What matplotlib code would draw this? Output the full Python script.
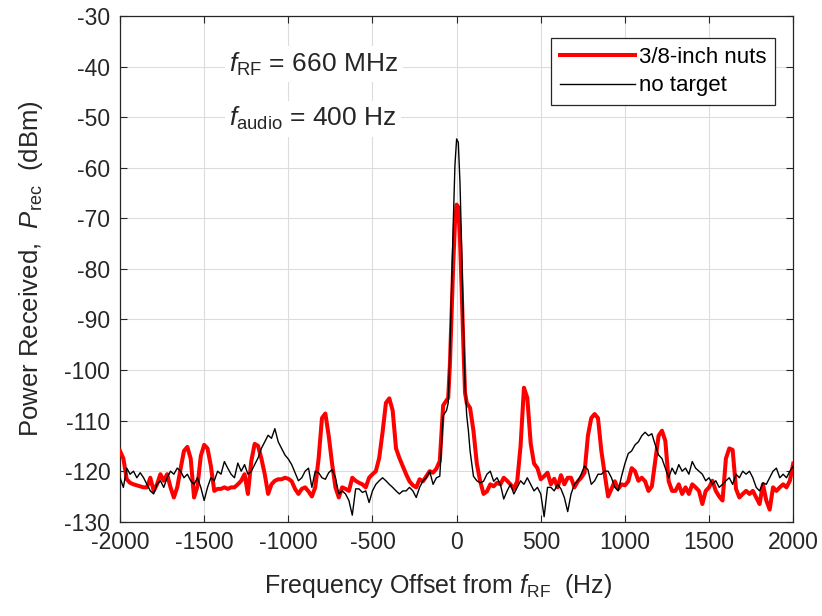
import numpy as np
import matplotlib
matplotlib.use("Agg")
import matplotlib.pyplot as plt

plt.rcParams['font.family'] = ['Liberation Sans', 'DejaVu Sans']
plt.rcParams['mathtext.fontset'] = 'custom'
plt.rcParams['mathtext.rm'] = 'Liberation Sans'
plt.rcParams['mathtext.it'] = 'Liberation Sans:italic'
plt.rcParams['axes.unicode_minus'] = False

# frequency grids (Hz): coarse outside, finer around the carrier
freq_lo = np.arange(-2000, -79, 20)
freq_core = np.arange(-70, 71, 10)
freq_hi = np.arange(80, 2001, 20)

# 3/8-inch nuts (dBm)
red_lo = [-116, -117.5, -121.6, -122.3, -122.6, -122.8, -123, -123.2, -123.2, -121.3,
          -123.9, -122.6, -120.6, -121.9, -120.6, -123.2, -125.2, -123.2, -119.5, -116,
          -115.2, -117.5, -125.2, -123, -117, -114.8, -115.5, -119, -123.9, -123.5,
          -123.5, -123.2, -123.5, -123.2, -123.2, -122.6, -121.9, -120.6, -124.5, -118,
          -114.6, -115, -117.5, -120.6, -124.5, -122.6, -121.9, -121.6, -121.6, -121.3,
          -121.5, -122, -123.5, -124.5, -123.5, -123.2, -124, -125, -123.2, -117.5,
          -109.5, -108.6, -113, -118.5, -123.2, -125.2, -123.2, -123.5, -123.9, -121.3,
          -121.9, -122.3, -122.6, -123.2, -121.3, -120.6, -120, -117.4, -112.3, -106.5,
          -105.6, -108, -115.5, -117.4, -119, -120.6, -122, -122.8, -123.2, -121.6,
          -122, -121, -120, -120.3, -119.5, -118, -107]
red_core = [-106.5, -106, -105.5, -99, -89, -79, -71, -67.3, -67.8, -74, -84, -95, -104.5, -106.5, -107]
red_hi = [-107.5, -112, -118.5, -122, -124.5, -124, -122.6, -123, -122.3, -122.6,
          -121.3, -121.9, -122.6, -123.5, -122, -115, -103.5, -105.5, -114.5, -118.5,
          -119.4, -121.6, -121, -120.3, -122.6, -121.5, -123.2, -120.8, -122.6, -121.3,
          -121.3, -123.2, -122, -121.3, -120.3, -113, -109.5, -108.7, -109.5, -116,
          -120.6, -125, -123.5, -122, -123.5, -122.6, -122.8, -122, -119.4, -120,
          -121.9, -121.3, -122, -123.9, -123, -118, -113, -112, -114, -122,
          -123.9, -123.9, -122.6, -124.5, -123.2, -124.5, -122.6, -123.2, -123.9, -126.5,
          -123.9, -123.2, -121.9, -123.9, -125, -125.8, -117.5, -115.5, -115.8, -123.5,
          -125.2, -124.5, -123.9, -124.5, -123.9, -125.2, -126.5, -122.6, -125.8, -127.6,
          -123.2, -123.9, -123.2, -122.6, -123.2, -121.9, -118.5]

# no target (dBm)
black_lo = [-121.3, -123.2, -119.4, -120.6, -120, -121.3, -120.3, -121.3, -122.6, -123.9,
            -124.5, -122.6, -121.9, -123.2, -121.3, -120, -120.6, -119.4, -120, -121.3,
            -120.6, -121.9, -122.6, -121.3, -123.2, -125.8, -123.2, -121.3, -121.9, -120,
            -120.6, -118.1, -119.4, -120.6, -121.3, -118.4, -120, -118.7, -120.6, -120,
            -118.7, -117.4, -115.5, -114.2, -112.9, -113.5, -111.6, -114.2, -115.5, -116.8,
            -117.6, -118.7, -120.3, -121.9, -121.3, -120, -119.4, -123.2, -120, -120.3,
            -121.3, -121.6, -120.3, -119.7, -121.3, -124.5, -123.9, -124.5, -125.8, -128.7,
            -123.5, -123.5, -124.2, -123.9, -126.2, -123.9, -122.6, -121.9, -121.3, -121.9,
            -122.6, -123.2, -123.9, -124.5, -123.9, -123.9, -123.2, -123.9, -125.2, -123.2,
            -121.9, -121.3, -120, -122.6, -121.3, -121, -109]
black_core = [-108.5, -108, -106.5, -97, -84, -71, -59.5, -54.3, -55, -63, -76, -91, -103, -109, -112]
black_hi = [-116, -121, -121.9, -122.3, -122, -120.6, -120, -122, -121.3, -122.6,
            -125.5, -123.9, -122.6, -124.5, -123.2, -121.9, -122.6, -121.3, -122.6, -123.9,
            -123.2, -124.5, -129, -123.2, -123.2, -123.9, -122.6, -123.5, -125.2, -128,
            -124.5, -122.6, -121.9, -120.6, -119, -119.7, -122.6, -121.9, -120.6, -120.6,
            -120, -120, -121.3, -123.2, -123.9, -121, -118.5, -116.5, -116, -114.8,
            -114.2, -113, -112.3, -113, -112.6, -114.8, -116.8, -117.5, -119.4, -121.3,
            -119.4, -120.6, -118.7, -120, -119.4, -120.6, -118.1, -119.4, -120, -120.6,
            -121.9, -121.3, -122.6, -121.9, -123.2, -122.6, -121.9, -121.3, -122.6, -120.6,
            -121.3, -120, -120.6, -120, -121.3, -123.2, -123.9, -122.3, -122.6, -121.3,
            -120, -119.4, -121.3, -120.6, -121.3, -120, -119]

freq = np.concatenate([freq_lo, freq_core, freq_hi])
p_nuts = np.concatenate([red_lo, red_core, red_hi])
p_none = np.concatenate([black_lo, black_core, black_hi])

x_ticks = np.arange(-2000, 2001, 500)
y_ticks = np.arange(-130, -29, 10)

fig = plt.figure(figsize=(8.22, 6.16), dpi=100)
ax = fig.add_axes([0.146, 0.153, 0.819, 0.821])

ax.plot(freq, p_nuts, color='#ff0000', lw=2.9, label='3/8-inch nuts', zorder=3)
ax.plot(freq, p_none, color='black', lw=1.0, label='no target', zorder=4)

ax.set_xlim(-2000, 2000)
ax.set_ylim(-130, -30)
ax.set_xticks(x_ticks)
ax.set_yticks(y_ticks)
ax.grid(True, color='#dcdcdc', lw=0.8)
ax.set_axisbelow(True)
ax.tick_params(direction='in', top=True, right=True, labelsize=16.5,
               colors='#262626', length=5, width=0.8, pad=7)
for s in ax.spines.values():
    s.set_color('#262626')
    s.set_linewidth(0.9)

ax.set_xlabel(r'Frequency Offset from $f_\mathrm{RF}$  (Hz)', fontsize=18, color='#262626')
ax.xaxis.set_label_coords(0.472, -0.1)
ax.set_ylabel(r'Power Received,  $P_\mathrm{rec}$  (dBm)', fontsize=18.5, color='#262626', labelpad=14)

box = dict(facecolor='white', edgecolor='none', pad=3)
ax.text(-1350, -39.5, r'$f_\mathrm{RF}$ = 660 MHz', fontsize=19, color='#262626',
        ha='left', va='center', bbox=box, zorder=5)
ax.text(-1350, -50.3, r'$f_\mathrm{audio}$ = 400 Hz', fontsize=19, color='#262626',
        ha='left', va='center', bbox=box, zorder=5)

leg = ax.legend(loc='upper right', bbox_to_anchor=(0.973, 0.957), borderaxespad=0,
                fontsize=16, fancybox=False, framealpha=1, edgecolor='#262626',
                handlelength=3.4, handletextpad=0.15, borderpad=0.4, labelspacing=0.35)
leg.get_frame().set_linewidth(0.9)
leg.set_zorder(6)

fig.savefig('out.png', dpi=100)
